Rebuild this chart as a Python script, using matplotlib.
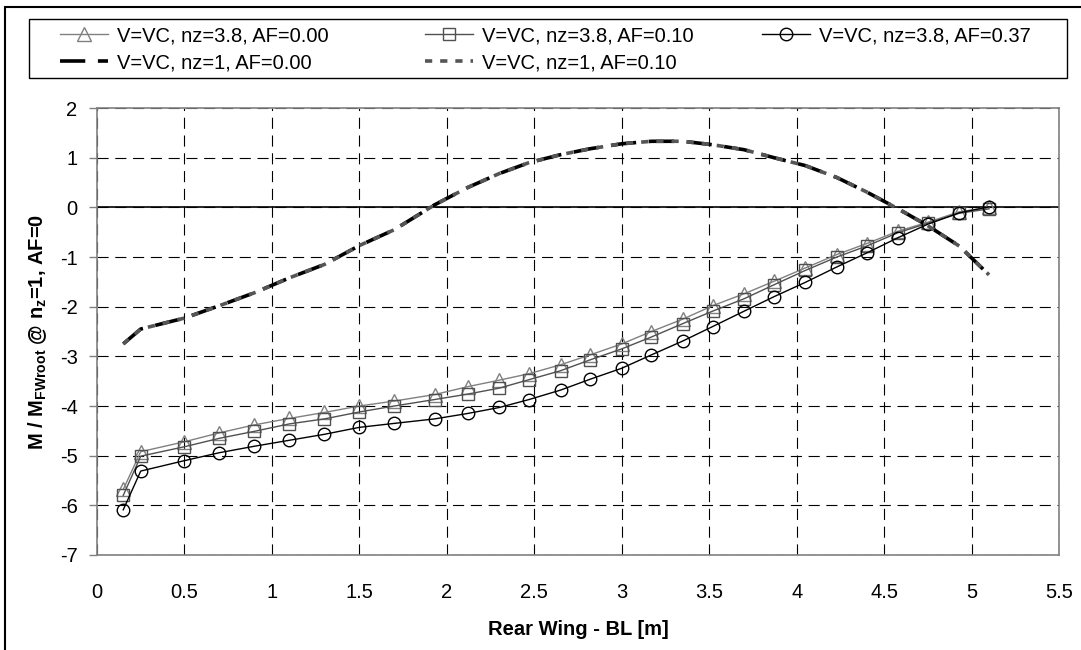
import matplotlib
matplotlib.use("Agg")
import matplotlib.pyplot as plt
from matplotlib.patches import Rectangle

plt.rcParams['font.family'] = ['Liberation Sans', 'DejaVu Sans']
plt.rcParams['mathtext.fontset'] = 'custom'
plt.rcParams['mathtext.rm'] = 'Liberation Sans'
plt.rcParams['mathtext.bf'] = 'Liberation Sans:bold'
plt.rcParams['axes.unicode_minus'] = False

# span stations along the rear wing [m]
bl = [0.15, 0.25, 0.5, 0.7, 0.9, 1.1, 1.3, 1.5, 1.7, 1.93, 2.12, 2.3, 2.47, 2.65,
      2.82, 3.0, 3.17, 3.35, 3.52, 3.7, 3.87, 4.05, 4.23, 4.4, 4.58, 4.75, 4.93, 5.1]

# nz = 3.8 cases
m_af000 = [-5.68, -4.92, -4.72, -4.54, -4.38, -4.25, -4.13, -4.0, -3.9, -3.77, -3.61,
           -3.48, -3.35, -3.17, -2.97, -2.75, -2.5, -2.25, -1.98, -1.74, -1.49, -1.22,
           -0.95, -0.73, -0.48, -0.3, -0.09, 0.0]
m_af010 = [-5.8, -5.01, -4.82, -4.65, -4.51, -4.36, -4.26, -4.12, -4.0, -3.87, -3.76,
           -3.64, -3.47, -3.29, -3.07, -2.85, -2.61, -2.34, -2.09, -1.84, -1.56, -1.27,
           -1.0, -0.78, -0.51, -0.32, -0.12, -0.03]
m_af037 = [-6.09, -5.31, -5.1, -4.94, -4.81, -4.69, -4.57, -4.43, -4.35, -4.26, -4.15,
           -4.03, -3.87, -3.68, -3.46, -3.24, -2.97, -2.69, -2.4, -2.09, -1.8, -1.51,
           -1.2, -0.92, -0.61, -0.34, -0.11, 0.01]

# nz = 1 cases
m1_af000 = [-2.75, -2.45, -2.23, -1.98, -1.72, -1.42, -1.15, -0.77, -0.45, 0.05, 0.4,
            0.68, 0.9, 1.06, 1.18, 1.28, 1.33, 1.33, 1.26, 1.16, 1.0, 0.84, 0.6, 0.31,
            -0.03, -0.37, -0.78, -1.36]
m1_af010 = [-2.75, -2.45, -2.23, -1.98, -1.72, -1.42, -1.15, -0.77, -0.45, 0.05, 0.4,
            0.68, 0.9, 1.06, 1.18, 1.28, 1.33, 1.33, 1.26, 1.16, 1.0, 0.84, 0.6, 0.31,
            -0.03, -0.37, -0.78, -1.36]

labels = ["V=VC, nz=3.8, AF=0.00", "V=VC, nz=3.8, AF=0.10", "V=VC, nz=3.8, AF=0.37",
          "V=VC, nz=1, AF=0.00", "V=VC, nz=1, AF=0.10"]

W, H = 1081, 650
fig = plt.figure(figsize=(W / 100, H / 100), dpi=100)
ax = fig.add_axes([97 / W, 1 - 555 / H, (1059 - 97) / W, (555 - 108) / H])

# outer chart border (runs off the right/bottom edge)
fig.patches.append(Rectangle((5 / W, -0.1), 1.2, 1.1 - 7 / H, transform=fig.transFigure,
                             fill=False, edgecolor='black', linewidth=1.5))
# legend box
fig.patches.append(Rectangle((29 / W, 1 - 78 / H), 1038 / W, 59 / H, transform=fig.transFigure,
                             fill=False, edgecolor='black', linewidth=1))

l1, = ax.plot(bl, m_af000, '-', color='#808080', lw=1, marker='^', ms=9.5,
              mfc='none', mec='#808080', mew=1)
l2, = ax.plot(bl, m_af010, '-', color='#505050', lw=1, marker='s', ms=9,
              mfc='none', mec='#505050', mew=1)
l3, = ax.plot(bl, m_af037, '-', color='black', lw=1, marker='o', ms=9,
              mfc='none', mec='black', mew=1)
l4, = ax.plot(bl, m1_af000, color='black', lw=2.6, dashes=(7, 3.5))
l5, = ax.plot(bl, m1_af010, color='#555555', lw=2.6, dashes=(2, 2.2))

ax.axhline(0, color='black', lw=1.2, zorder=1)

ax.set_xlim(0, 5.5)
ax.set_ylim(-7, 2)
ax.set_xticks([0, 0.5, 1, 1.5, 2, 2.5, 3, 3.5, 4, 4.5, 5, 5.5])
ax.set_xticklabels(['0', '0.5', '1', '1.5', '2', '2.5', '3', '3.5', '4', '4.5', '5', '5.5'])
ax.set_yticks(range(-7, 3))
ax.grid(True, color='black', lw=0.8, dashes=(10, 6))
ax.set_axisbelow(True)
for s in ax.spines.values():
    s.set_color('#808080')
    s.set_linewidth(1.2)
ax.tick_params(axis='x', length=0, pad=20, labelsize=14.5)
ax.tick_params(axis='y', length=6, color='#808080', width=1, direction='out', pad=8,
               labelsize=14.5)

ax.set_xlabel("Rear Wing - BL [m]", fontsize=14.5, fontweight='bold')
ax.set_ylabel(r"M / M$_{\mathbf{FWroot}}$ @ n$_{\mathbf{z}}$=1, AF=0", fontsize=14.5,
              fontweight='bold')
ax.yaxis.set_label_coords(-0.05, 0.5)
ax.xaxis.set_label_coords(0.5, -0.145)

# one legend per column so the columns sit where the reference has them
common = dict(fontsize=14.5, handlelength=2.4, handletextpad=0.45, labelspacing=0.4,
              borderpad=0, borderaxespad=0, frameon=False, loc='upper left')
fig.legend([l1, l4], [labels[0], labels[3]], bbox_to_anchor=(60 / W, 1 - 26 / H), **common)
fig.legend([l2, l5], [labels[1], labels[4]], bbox_to_anchor=(425 / W, 1 - 26 / H), **common)
fig.legend([l3], [labels[2]], bbox_to_anchor=(762 / W, 1 - 26 / H), **common)

fig.savefig("out.png", dpi=100)
